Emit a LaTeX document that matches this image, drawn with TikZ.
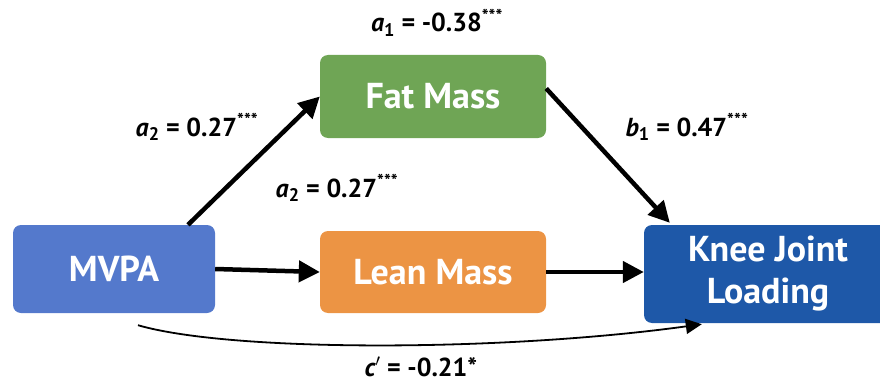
\documentclass[tikz,border=0pt]{standalone}
\usepackage{fontspec}
\setmainfont{PT Sans}
\usetikzlibrary{arrows.meta}

\definecolor{mvpaBlue}{HTML}{5479CC}
\definecolor{fatGreen}{HTML}{6FA555}
\definecolor{leanOrange}{HTML}{EC9444}
\definecolor{kneeBlue}{HTML}{1E58A8}

\begin{document}
\begin{tikzpicture}[x=1pt, y=-1pt,
    box/.style={rectangle, rounded corners=8pt, text=white, font=\fontsize{36}{42}\selectfont\bfseries, align=center, inner sep=0pt},
    effect/.style={line width=4.5pt, -{Triangle[length=21pt, width=21pt]}},
    direct/.style={line width=1.8pt, -{Triangle[length=16pt, width=15pt]}},
    coef/.style={font=\fontsize{26}{30}\selectfont\bfseries, anchor=base, inner sep=0pt}]

    \clip (0,0) rectangle (880,385);

    % Boxes
    \node[box, fill=mvpaBlue, minimum width=202pt, minimum height=88pt] (MVPA) at (114, 269) {MVPA};
    \node[box, fill=fatGreen, minimum width=226pt, minimum height=83pt] (FM) at (433, 96.5) {Fat Mass};
    \node[box, fill=leanOrange, minimum width=226pt, minimum height=82pt] (LM) at (433, 272) {Lean Mass};
    \node[box, fill=kneeBlue, minimum width=248pt, minimum height=98pt] (KJL) at (768, 274) {Knee Joint\\Loading};

    % Indirect paths
    \draw[effect] ([xshift=74pt]MVPA.north) -- (FM.west);
    \draw[effect] ([yshift=8pt]FM.east) -- ([xshift=26pt, yshift=2pt]KJL.north west);
    \draw[effect] (MVPA.east) -- (LM.west);
    \draw[effect] (LM.east) -- (KJL.west |- LM.east);

    % Direct path
    \draw[direct] ([xshift=24pt, yshift=-12pt]MVPA.south) .. controls (230,352) and (500,352) .. ([xshift=58pt, yshift=-1pt]KJL.south west);

    % Coefficients
    \node[coef] (a1) at (437, 32) {{\itshape a}\textsubscript{1} = -0.38\textsuperscript{***}};
    \node[coef] (a2up) at (197, 136) {{\itshape a}\textsubscript{2} = 0.27\textsuperscript{***}};
    \node[coef] (a2low) at (337, 197) {{\itshape a}\textsubscript{2} = 0.27\textsuperscript{***}};
    \node[coef] (b1) at (687, 136) {{\itshape b}\textsubscript{1} = 0.47\textsuperscript{***}};
    \node[coef] (c) at (421, 376) {{\itshape c}$'$ = -0.21*};

\end{tikzpicture}
\end{document}
